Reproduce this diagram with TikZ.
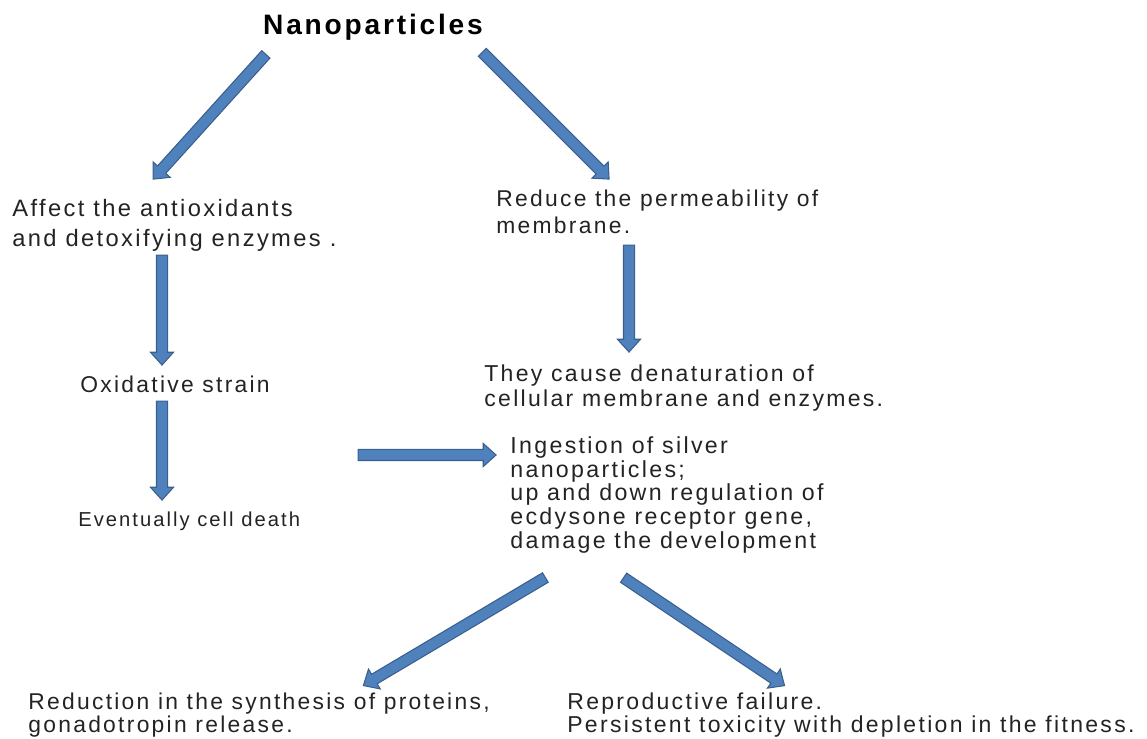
\documentclass[tikz,border=0pt]{standalone}
\usepackage{fontspec}
\setmainfont{Liberation Sans}[LetterSpace=10]
\usetikzlibrary{shapes.arrows, positioning, calc}
\definecolor{arrowfill}{RGB}{79,129,189}
\definecolor{arrowline}{RGB}{58,95,140}
\definecolor{inktext}{RGB}{35,35,35}

\newcommand{\blockarrow}[2]{%
  \path let \p1=($(#2)-(#1)$), \n1={atan2(\y1,\x1)}, \n2={veclen(\x1,\y1)} in
    node[flowarrow, rotate=\n1, minimum height=\n2] at ($(#1)!0.5!(#2)$) {};}

\begin{document}
\begin{tikzpicture}[x=0.02cm, y=-0.02cm,
    flowarrow/.style={single arrow, draw=arrowline, fill=arrowfill, line width=0.6pt,
      inner xsep=0pt, inner ysep=0.1cm, minimum width=0.44cm, single arrow head extend=0.12cm,
      single arrow tip angle=84},
    txt/.style={anchor=west, align=left, inner sep=0pt, text=inktext,
      font=\fontsize{13}{14}\selectfont},
    title/.style={inner sep=0pt, text=black, font=\fontsize{16}{18}\selectfont\bfseries}]
    \useasboundingbox (0,0) rectangle (1147,739);

    % texts
    \node[title] (nano) at (373,27) {Nanoparticles};
    \node[txt, font=\fontsize{13.5}{17}\selectfont] (affect) at (12,225)
      {Affect the antioxidants\\and detoxifying enzymes .};
    \node[txt] (oxid) at (80,384) {Oxidative strain};
    \node[txt, font=\fontsize{11.5}{13}\selectfont] (death) at (78,521) {Eventually cell death};
    \node[txt, font=\fontsize{13}{15}\selectfont] (reduce) at (496,212)
      {Reduce the permeability of\\membrane.};
    \node[txt, font=\fontsize{13.1}{14}\selectfont] (denat) at (484,388)
      {They cause denaturation of\\cellular membrane and enzymes.};
    \node[txt, font=\fontsize{13.2}{13.6}\selectfont] (ingest) at (510,495)
      {Ingestion of silver\\nanoparticles;\\up and down regulation of\\ecdysone receptor gene,\\damage the development};
    \node[txt, font=\fontsize{13}{13}\selectfont] (synth) at (28,715)
      {Reduction in the synthesis of proteins,\\gonadotropin release.};
    \node[txt, font=\fontsize{13.1}{13}\selectfont] (repro) at (567,715)
      {Reproductive failure.\\Persistent toxicity with depletion in the fitness.};

    % arrow ends
    \coordinate (a1s) at (268,52);  \coordinate (a1e) at (155,177);
    \coordinate (a2s) at (480,50);  \coordinate (a2e) at (607,177);
    \coordinate (a3s) at (162,252); \coordinate (a3e) at (162,362);
    \coordinate (a4s) at (162,398); \coordinate (a4e) at (162,497);
    \coordinate (a5s) at (629,242); \coordinate (a5e) at (629,349);
    \coordinate (a6s) at (355,455); \coordinate (a6e) at (493,455);
    \coordinate (a7s) at (548,576); \coordinate (a7e) at (366,684);
    \coordinate (a8s) at (621,576); \coordinate (a8e) at (782,684);

    % block arrows
    \blockarrow{a1s}{a1e}
    \blockarrow{a2s}{a2e}
    \blockarrow{a3s}{a3e}
    \blockarrow{a4s}{a4e}
    \blockarrow{a5s}{a5e}
    \blockarrow{a6s}{a6e}
    \blockarrow{a7s}{a7e}
    \blockarrow{a8s}{a8e}
  \end{tikzpicture}
\end{document}
